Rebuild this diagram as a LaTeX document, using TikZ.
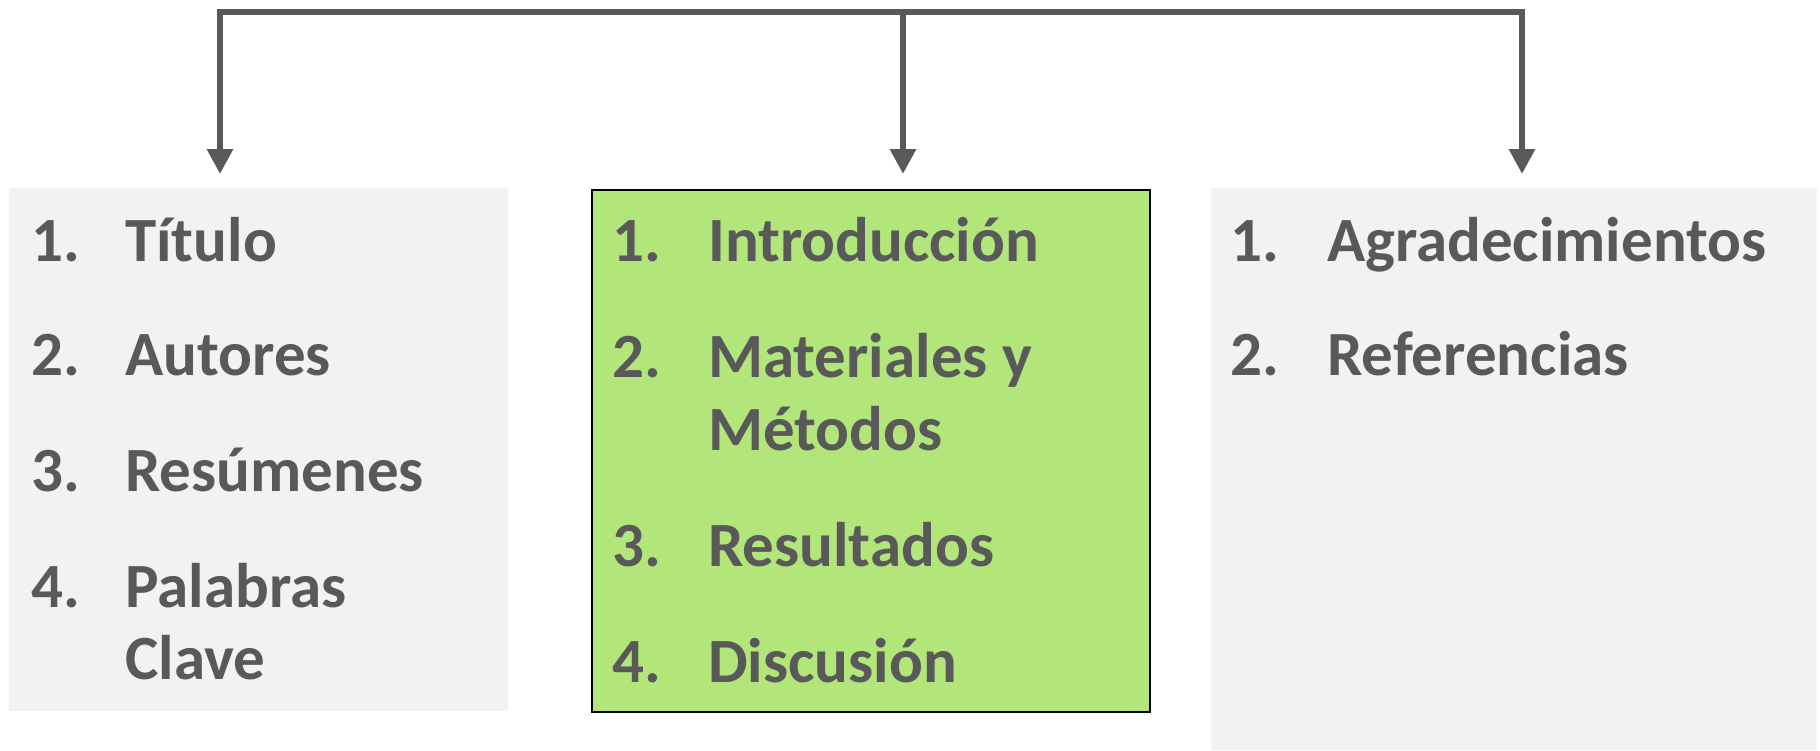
\documentclass[tikz,border=0pt]{standalone}
\usepackage{fontspec}
\setmainfont{Carlito}
\usetikzlibrary{arrows.meta}

\definecolor{txtgray}{HTML}{595959}
\definecolor{boxgray}{HTML}{F2F2F2}
\definecolor{boxgreen}{HTML}{B2E67A}

\tikzset{
  secbox/.style={anchor=north west, inner sep=0pt, fill=boxgray},
  entry/.style={anchor=base west, inner sep=0pt, text=txtgray,
    font=\fontsize{63}{72}\selectfont\bfseries},
  conn/.style={draw=txtgray, line width=6pt, line join=miter,
    -{Triangle[width=25pt,length=25pt]}},
}

\begin{document}
\begin{tikzpicture}[x=1pt, y=-1pt]
        \useasboundingbox (0,0) rectangle (1820,750);

        % the three boxes
        \node[secbox, minimum width=499pt, minimum height=523pt] (front) at (9,188) {};
        \node[secbox, minimum width=558pt, minimum height=522pt, fill=boxgreen,
              draw=black, line width=1.5pt] (body) at (591,189) {};
        \node[secbox, minimum width=606pt, minimum height=562pt] (back) at (1211,188) {};

        % top bar
        \coordinate (barL) at (220,12);
        \coordinate (barM) at (903,12);
        \coordinate (barR) at (1522,12);
        \draw[conn] (barM) -- ([yshift=15pt]barM |- body.north);
        \draw[conn, {Triangle[width=25pt,length=25pt]}-{Triangle[width=25pt,length=25pt]}]
            ([yshift=14pt]barL |- front.north) -- (barL) -- (barR) -- ([yshift=14pt]barR |- back.north);

        % front matter
        \node[entry] (n1) at (31,261) {1.};  \node[entry] (t1) at (125,261) {Título};
        \node[entry] (n2) at (31,375) {2.};  \node[entry] (t2) at (125,375) {Autores};
        \node[entry] (n3) at (31,491) {3.};  \node[entry] (t3) at (125,491) {Resúmenes};
        \node[entry] (n4) at (31,607) {4.};  \node[entry] (t4) at (125,607) {Palabras};
        \node[entry] (t4b) at (125,679) {Clave};

        % body
        \node[entry] (m1) at (612,261) {1.};  \node[entry] (u1) at (708,261) {Introducción};
        \node[entry] (m2) at (612,377) {2.};  \node[entry] (u2) at (708,377) {Materiales y};
        \node[entry] (u2b) at (708,450) {Métodos};
        \node[entry] (m3) at (612,566) {3.};  \node[entry] (u3) at (708,566) {Resultados};
        \node[entry] (m4) at (612,682) {4.};  \node[entry] (u4) at (708,682) {Discusión};

        % back matter
        \node[entry] (r1) at (1230,261) {1.};  \node[entry] (v1) at (1327,261) {Agradecimientos};
        \node[entry] (r2) at (1230,375) {2.};  \node[entry] (v2) at (1327,375) {Referencias};
\end{tikzpicture}
\end{document}
